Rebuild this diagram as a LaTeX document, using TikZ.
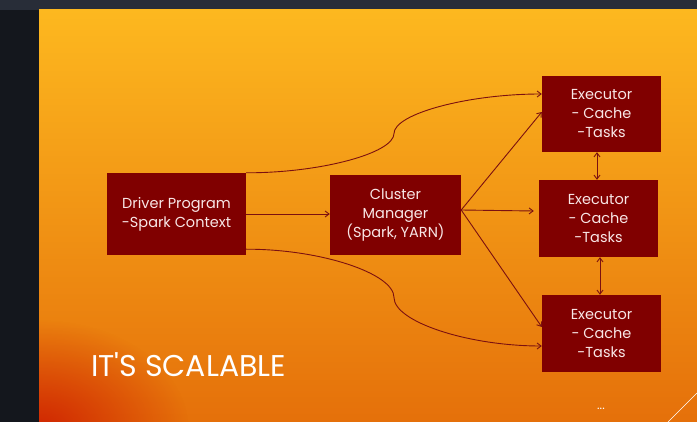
\documentclass[tikz,border=0pt]{standalone}
\usepackage{fontspec}
\setmainfont{Poppins}
\usetikzlibrary{arrows.meta,calc,fadings}
\definecolor{topbar}{HTML}{282D38}
\definecolor{leftbar}{HTML}{14171D}
\definecolor{bgtop}{HTML}{FDB81F}
\definecolor{bgmid}{HTML}{F6A614}
\definecolor{bgbot}{HTML}{E5700A}
\definecolor{cornerred}{HTML}{CC1800}
\definecolor{boxred}{HTML}{800000}
\definecolor{linered}{HTML}{7B1010}
\definecolor{boxtext}{HTML}{F8E6E6}
\tikzfading[name=cornerfade, inner color=transparent!15, outer color=transparent!100]
\begin{document}
\begin{tikzpicture}[x=1pt,y=-1pt,
  boxnode/.style={fill=boxred, text=boxtext, align=center, inner sep=0pt,
    font=\fontsize{14.5}{19}\selectfont},
  conn/.style={draw=linered, line width=0.9pt, -{Straight Barb[length=4pt,width=6pt]}},
  dconn/.style={draw=linered, line width=0.9pt, {Straight Barb[length=4pt,width=6pt]}-{Straight Barb[length=4pt,width=6pt]}},
  titletext/.style={text=white, anchor=base west, inner sep=0pt, font=\fontsize{30}{36}\selectfont}
]
\useasboundingbox (0,0) rectangle (697,422);
% window frame
\fill[topbar] (0,0) rectangle (697,10);
\fill[leftbar] (0,10) rectangle (39,422);
% slide background
\shade[top color=bgtop, middle color=bgmid, bottom color=bgbot] (39,10) rectangle (697,422);
\begin{scope}
\clip (39,10) rectangle (697,422);
\fill[cornerred, path fading=cornerfade] (39,430) ellipse (150 and 110);
\end{scope}
% corner line
\coordinate (cl1) at (668,422);
\coordinate (cl2) at (697,393);
\draw[white, line width=0.5pt] (cl1) -- (cl2);

% boxes
\node[boxnode, minimum width=139pt, minimum height=82pt] (drv) at (176.5,214) {Driver Program\\ -Spark Context};
\node[boxnode, minimum width=131pt, minimum height=80pt] (clu) at (395.5,215) {Cluster\\Manager\\(Spark, YARN)};
\node[boxnode, minimum width=119pt, minimum height=76pt] (ex1) at (601.5,114) {Executor\\- Cache\\-Tasks};
\node[boxnode, minimum width=119pt, minimum height=77pt] (ex2) at (598.5,218.5) {Executor\\- Cache\\-Tasks};
\node[boxnode, minimum width=119pt, minimum height=77pt] (ex3) at (601.5,333.5) {Executor\\- Cache\\-Tasks};

% title and dots
\node[titletext] (title) at (91,377) {IT\textquotesingle S SCALABLE};
\node[text=white, font=\fontsize{12}{12}\selectfont, inner sep=0pt] (dots) at (601,409) {...};

% connectors
\draw[conn] (drv.east) -- ($(clu.west)+(0,-1)$);
\draw[conn] (drv.north east) .. controls (320,173) and (394,153.25) .. (394,133.5)
  .. controls (394,113.75) and (468,94) .. ($(ex1.west)+(0,-20)$);
\draw[conn] ($(drv.south east)+(0,-6)$) .. controls (320,249) and (394,273.25) .. (394,297.5)
  .. controls (394,321.75) and (468,346) .. ($(ex3.west)+(0,12.5)$);
\draw[conn] ($(clu.east)+(0,-5)$) -- ($(ex1.west)+(0,-2)$);
\draw[conn] ($(clu.east)+(0,-5)$) -- ($(ex2.west)+(-5,-7.5)$);
\draw[conn] ($(clu.east)+(0,-5)$) -- ($(ex3.west)+(0,-6.5)$);
\draw[dconn] ([xshift=-4.5pt]ex1.south) -- ([xshift=-1.5pt]ex2.north);
\draw[dconn] ([xshift=1.5pt]ex2.south) -- ([xshift=-1.5pt]ex3.north);
\end{tikzpicture}
\end{document}
